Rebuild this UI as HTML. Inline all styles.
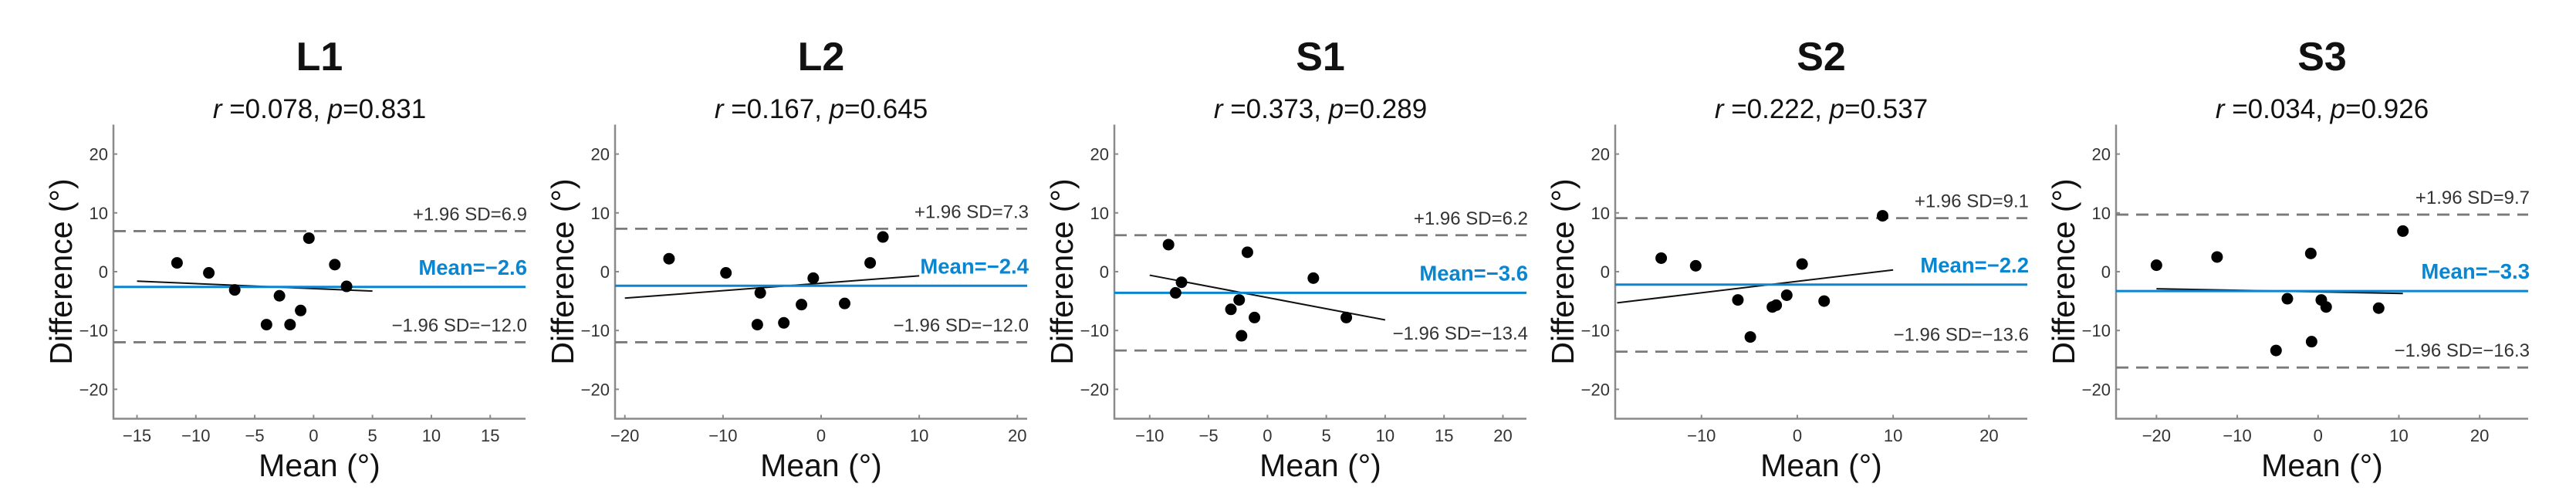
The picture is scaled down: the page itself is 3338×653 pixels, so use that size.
<!DOCTYPE html>
<html><head><meta charset="utf-8"><style>
html,body{margin:0;padding:0;background:#fff;}
svg{display:block;font-family:"Liberation Sans",Arial,sans-serif;}
</style></head><body>
<svg id="chart" width="3338" height="653" viewBox="0 0 3338 653" xmlns="http://www.w3.org/2000/svg"></svg>
<script>
// ---- data ----
const panelNames = ["L1","L2","S1","S2","S3"];
const rValues = ["0.078","0.167","0.373","0.222","0.034"];
const pValues = ["0.831","0.645","0.289","0.537","0.926"];
const meanDiffs = [-2.6,-2.4,-3.6,-2.2,-3.3];
const upperLoA = [6.9,7.3,6.2,9.1,9.7];
const lowerLoA = [-12.0,-12.0,-13.4,-13.6,-16.3];
const xDomains = [[-17,18],[-21,21],[-13,22],[-19,24],[-25,26]];
const xTicks = [[-15,-10,-5,0,5,10,15],[-20,-10,0,10,20],[-10,-5,0,5,10,15,20],[-10,0,10,20],[-20,-10,0,10,20]];
const yTicks = [-20,-10,0,10,20];
const ptsMeanL1 = [-11.6,-8.9,-6.7,-4.0,-2.9,-2.0,-1.1,-0.4,1.8,2.8];
const ptsDiffL1 = [1.5,-0.2,-3.1,-9.0,-4.1,-9.0,-6.6,5.7,1.2,-2.5];
const ptsMeanL2 = [-15.5,-9.7,-6.2,-6.5,-3.8,-2.0,-0.8,2.4,5.0,6.3];
const ptsDiffL2 = [2.2,-0.2,-3.6,-9.0,-8.7,-5.6,-1.1,-5.4,1.5,5.9];
const ptsMeanS1 = [-8.4,-7.8,-7.3,-3.1,-2.4,-2.2,-1.7,-1.1,3.9,6.7];
const ptsDiffS1 = [4.6,-3.6,-1.8,-6.4,-4.8,-10.9,3.3,-7.8,-1.1,-7.8];
const ptsMeanS2 = [-14.2,-10.6,-6.2,-4.9,-2.6,-2.2,-1.1,0.5,2.8,8.9];
const ptsDiffS2 = [2.3,1.0,-4.8,-11.1,-6.0,-5.7,-4.0,1.3,-5.0,9.5];
const ptsMeanS3 = [-20.0,-12.5,-5.2,-3.8,-0.9,-0.8,0.4,1.0,7.5,10.5];
const ptsDiffS3 = [1.1,2.5,-13.4,-4.6,3.1,-11.9,-4.8,-6.0,-6.2,6.9];
const regX0 = [-15,-20,-10,-18.8,-20];
const regY0 = [-1.6,-4.5,-0.6,-5.3,-2.9];
const regX1 = [5,10,10,10,10.5];
const regY1 = [-3.3,-0.7,-8.2,0.3,-3.7];

const allMeans=[ptsMeanL1,ptsMeanL2,ptsMeanS1,ptsMeanS2,ptsMeanS3];
const allDiffs=[ptsDiffL1,ptsDiffL2,ptsDiffS1,ptsDiffS2,ptsDiffS3];

const NS="http://www.w3.org/2000/svg";
const svg=document.getElementById('chart');
function mk(tag,attrs,parent){const e=document.createElementNS(NS,tag);for(const k in attrs)e.setAttribute(k,attrs[k]);(parent||svg).appendChild(e);return e;}
const axisLefts=[147,797,1444,2093,2742];
const plotW=534, yTop=161.5, yBot=542.5, yMin=-25, yMax=25;
function fmt(v){return (v<0?"\u2212":"")+Math.abs(v);}
function fmt1(v){return (v<0?"\u2212":"")+Math.abs(v).toFixed(1);}

for(let i=0;i<panelNames.length;i++){
  const L=axisLefts[i], R=L+plotW;
  const [x0,x1]=xDomains[i];
  const sx=v=>L+(v-x0)/(x1-x0)*(R-L);
  const sy=v=>yBot-(v-yMin)/(yMax-yMin)*(yBot-yTop);
  const g=mk('g',{});
  
  
  const cx=(L+R)/2;
  let t=mk('text',{x:cx,y:91,'text-anchor':'middle','font-size':52,'font-weight':'bold',fill:'#111'},g);
  t.textContent=panelNames[i];
  
  
  t=mk('text',{x:cx,y:153,'text-anchor':'middle','font-size':35,fill:'#111'},g);
  t.innerHTML='<tspan font-style="italic">r</tspan> =' + rValues[i] + ', <tspan font-style="italic">p</tspan>=' + pValues[i];
  
  
  let a=mk('path',{d:`M${L},${yTop} L${L},${yBot} L${R},${yBot}`,fill:'none',stroke:'#8a8a8a','stroke-width':2.5},g);
  
  
  yTicks.forEach(v=>{
    const y=sy(v);
    mk('line',{x1:L,x2:L+5,y1:y,y2:y,stroke:'#8a8a8a','stroke-width':2},g);
    const tt=mk('text',{x:L-7,y:y+8,'text-anchor':'end','font-size':22,fill:'#333'},g);
    tt.textContent=fmt(v);
    
    
  });
  xTicks[i].forEach(v=>{
    const x=sx(v);
    mk('line',{x1:x,x2:x,y1:yBot,y2:yBot-5,stroke:'#8a8a8a','stroke-width':2},g);
    const tt=mk('text',{x:x,y:572,'text-anchor':'middle','font-size':22,fill:'#333'},g);
    tt.textContent=fmt(v);
    
    
  });
  t=mk('text',{x:cx,y:617,'text-anchor':'middle','font-size':41,fill:'#111'},g);
  t.textContent='Mean (\u00b0)';
  
  
  t=mk('text',{x:0,y:0,'text-anchor':'middle','font-size':41,fill:'#111',transform:`translate(${L-54},352) rotate(-90)`},g);
  t.textContent='Difference (\u00b0)';
  
  
  [[upperLoA[i],'+1.96 SD='+fmt1(upperLoA[i]),'upper-loa'],[lowerLoA[i],'\u22121.96 SD='+fmt1(lowerLoA[i]),'lower-loa']].forEach(([v,lab,nm])=>{
    const y=sy(v);
    const ln=mk('line',{x1:L,x2:R,y1:y,y2:y,stroke:'#7a7a7a','stroke-width':2.8,'stroke-dasharray':'16 10'},g);
    
    
    const tt=mk('text',{x:R+2,y:y-14,'text-anchor':'end','font-size':24,fill:'#333'},g);
    tt.textContent=lab;
    
    
  });
  let rl=mk('line',{x1:sx(regX0[i]),y1:sy(regY0[i]),x2:sx(regX1[i]),y2:sy(regY1[i]),stroke:'#111','stroke-width':2},g);
  
  
  const my=sy(meanDiffs[i]);
  let ml=mk('line',{x1:L,x2:R,y1:my,y2:my,stroke:'#0a86d0','stroke-width':3},g);
  
  
  t=mk('text',{x:R+2,y:my-16,'text-anchor':'end','font-size':27.5,'font-weight':'bold',fill:'#0a86d0'},g);
  t.textContent='Mean='+fmt1(meanDiffs[i]);
  
  
  allMeans[i].forEach((m,j)=>{
    const c=mk('circle',{cx:sx(m),cy:sy(allDiffs[i][j]),r:7.5,fill:'#000'},g);
    
    
  });
}
</script>
</body></html>
